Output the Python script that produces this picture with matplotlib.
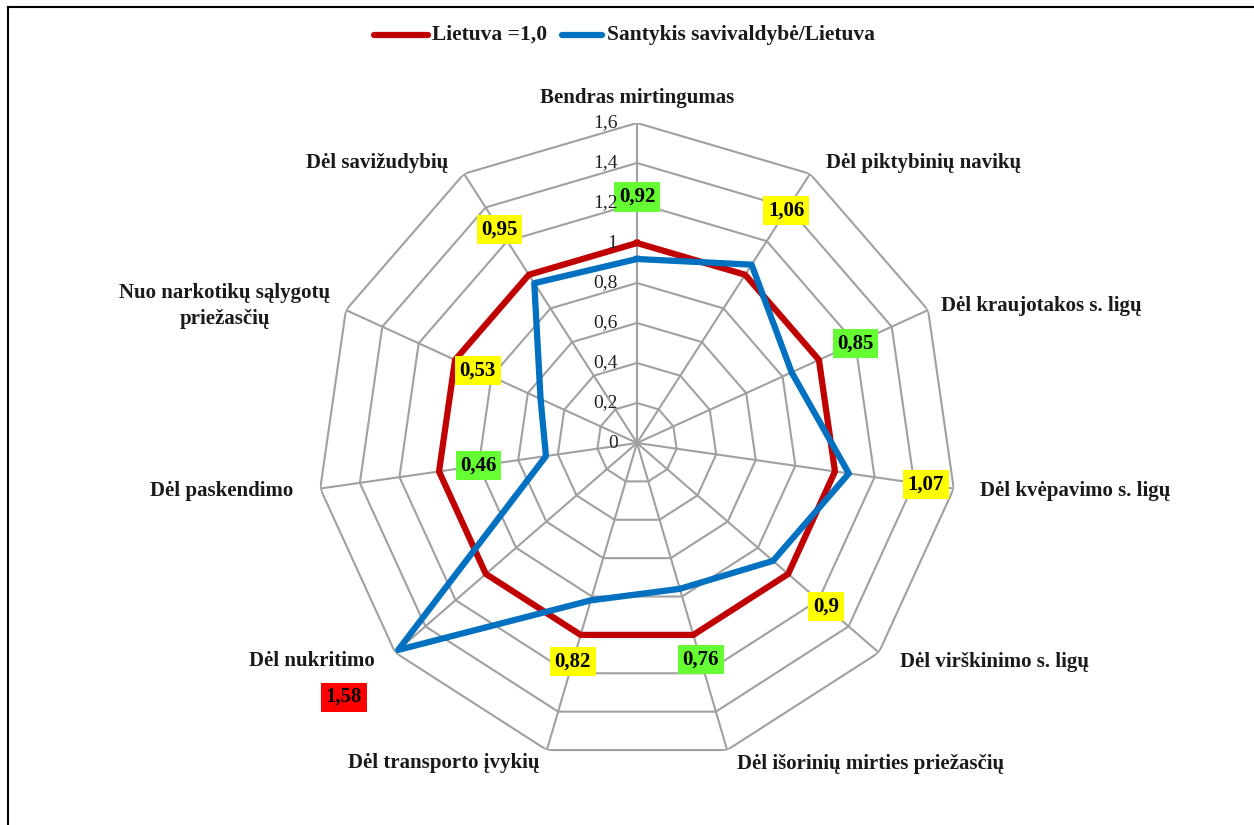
import numpy as np
import matplotlib.pyplot as plt
from matplotlib.lines import Line2D

# Data
categories = ['Bendras mirtingumas', 'Dėl piktybinių navikų', 'Dėl kraujotakos s. ligų',
              'Dėl kvėpavimo s. ligų', 'Dėl virškinimo s. ligų', 'Dėl išorinių mirties priežasčių',
              'Dėl transporto įvykių', 'Dėl nukritimo', 'Dėl paskendimo',
              'Nuo narkotikų sąlygotų\npriežasčių', 'Dėl savižudybių']
lietuva = [1.0] * 11
santykis = [0.92, 1.06, 0.85, 1.07, 0.9, 0.76, 0.82, 1.58, 0.46, 0.53, 0.95]
value_text = ['0,92', '1,06', '0,85', '1,07', '0,9', '0,76', '0,82', '1,58', '0,46', '0,53', '0,95']
box_colors = ['#66FF33', '#FFFF00', '#66FF33', '#FFFF00', '#FFFF00', '#66FF33',
              '#FFFF00', '#FF0000', '#66FF33', '#FFFF00', '#FFFF00']
r_ticks = [0, 0.2, 0.4, 0.6, 0.8, 1.0, 1.2, 1.4, 1.6]
r_tick_labels = ['0', '0,2', '0,4', '0,6', '0,8', '1', '1,2', '1,4', '1,6']
legend_labels = ['Lietuva =1,0', 'Santykis savivaldybė/Lietuva']
series_colors = ['#C00000', '#0070C0']

# layout for the labels (radius, alignment)
label_r = [1.23, 1.38, 1.20, 1.46, 1.25, 1.13, 1.14, 1.94, 0.80, 0.875, 1.27]
cat_pos = [(637, 98, 'center'), (826, 163, 'left'), (941, 306, 'left'), (980, 491, 'left'),
           (900, 662, 'left'), (737, 764, 'left'), (540, 763, 'right'), (375, 661, 'right'),
           (293, 491, 'right'), (225, 306, 'center'), (448, 163, 'right')]

serif = 'Liberation Serif'
W, H = 1254, 825
fig = plt.figure(figsize=(W / 100, H / 100), dpi=100)

cx, cy, R = 637, 443, 320
ax = fig.add_axes([(cx - R) / W, (H - cy - R) / H, 2 * R / W, 2 * R / H], projection='polar')
ax.set_theta_zero_location('N')
ax.set_theta_direction(-1)
ax.set_ylim(0, 1.6)
ax.grid(False)
ax.set_xticks([])
ax.set_yticks([])
ax.spines['polar'].set_visible(False)
ax.patch.set_alpha(0)

n = len(categories)
theta = np.arange(n) * 2 * np.pi / n
theta_c = np.append(theta, theta[0])

# polygon grid
grid_c = '#A0A0A0'
for r in r_ticks[1:]:
    ax.plot(theta_c, [r] * (n + 1), color=grid_c, lw=1.5, zorder=1)
for t in theta:
    ax.plot([t, t], [0, 1.6], color=grid_c, lw=1.5, zorder=1)

# radial tick labels
for r, lab in zip(r_ticks, r_tick_labels):
    ax.annotate(lab, xy=(0, r), xytext=(-14, 0), textcoords='offset points',
                ha='right', va='center', fontsize=14, family=serif, color='#222222', zorder=7)

# series
ax.plot(theta_c, lietuva + lietuva[:1], color=series_colors[0], lw=4.5, zorder=4)
ax.plot(theta_c, santykis + santykis[:1], color=series_colors[1], lw=4.5, zorder=5)

# value boxes
for t, r, txt, c in zip(theta, label_r, value_text, box_colors):
    ax.text(t, r, txt, ha='center', va='center', fontsize=15, fontweight='bold', family=serif,
            zorder=6, bbox=dict(boxstyle='square,pad=0.22', fc=c, ec='none'))

# category labels
for lab, (x, y, ha) in zip(categories, cat_pos):
    fig.text(x / W, 1 - y / H, lab, ha=ha, va='center', fontsize=15, fontweight='bold',
             family=serif, color='#1a1a1a', multialignment='center', linespacing=1.45)

# legend (drawn by hand to match the spacing)
leg_y = 1 - 35 / H
for (x0, x1, tx), lab, c in zip([(374, 428, 432), (562, 602, 607)], legend_labels, series_colors):
    fig.add_artist(Line2D([x0 / W, x1 / W], [leg_y, leg_y], color=c, lw=4.5,
                          solid_capstyle='round'))
    fig.text(tx / W, leg_y, lab, ha='left', va='center', fontsize=15.5, fontweight='bold',
             family=serif, color='#1a1a1a')

# frame on left and top
fig.add_artist(Line2D([8 / W, 8 / W], [0, 1 - 7 / H], color='black', lw=1.5))
fig.add_artist(Line2D([8 / W, 1], [1 - 7 / H, 1 - 7 / H], color='black', lw=1.5))

fig.savefig('out.png', dpi=100)
